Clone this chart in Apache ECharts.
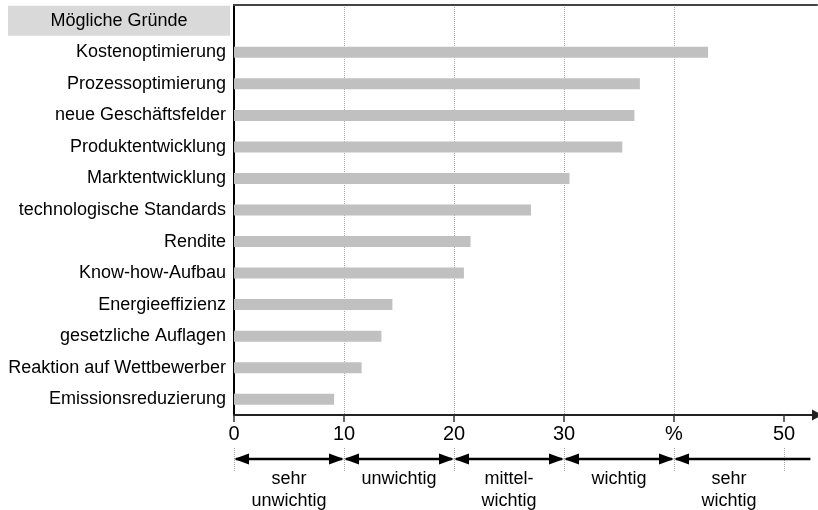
<!DOCTYPE html>
<html>
<head>
<meta charset="utf-8">
<script src="https://cdn.jsdelivr.net/npm/echarts@6/dist/echarts.min.js"></script>
<style>html,body{margin:0;padding:0;background:#fff}#c{width:818px;height:510px}</style>
</head>
<body>
<div id="c"></div>
<script>
const headerLabel = 'Mögliche Gründe';
const categories = ['Kostenoptimierung','Prozessoptimierung','neue Geschäftsfelder','Produktentwicklung','Marktentwicklung','technologische Standards','Rendite','Know-how-Aufbau','Energieeffizienz','gesetzliche Auflagen','Reaktion auf Wettbewerber','Emissionsreduzierung'];
const values = [43.1, 36.9, 36.4, 35.3, 30.5, 27.0, 21.5, 20.9, 14.4, 13.4, 11.6, 9.1];
const tickValues = [0, 10, 20, 30, 40, 50];
const tickLabels = ['0', '10', '20', '30', '%', '50'];
const bandStarts = [0, 10, 20, 30, 40];
const bandEnds = [10, 20, 30, 40, 52.4];
const bandMids = [5, 15, 25, 35, 45];
const bandLabels = ['sehr\nunwichtig', 'unwichtig', 'mittel-\nwichtig', 'wichtig', 'sehr\nwichtig'];

const FONT = "'Liberation Sans', Arial, sans-serif";
const yCats = [headerLabel].concat(categories);
const barData = ['-'].concat(values);

const chart = echarts.init(document.getElementById('c'), null, {renderer: 'canvas'});

const bandData = bandStarts.map((s, i) => [s, bandEnds[i], bandMids[i], i]);
const guideData = tickValues.map(v => [v]);

const option = {
  animation: false,
  backgroundColor: '#fff',
  grid: {left: 234, top: 5, width: 583, height: 410, containLabel: false},
  xAxis: [{
    type: 'value', min: 0, max: 53, interval: 10, position: 'bottom',
    axisLine: {show: true, lineStyle: {color: '#222', width: 2}, symbol: ['none', 'triangle'], symbolSize: [11, 10]},
    axisTick: {show: true, length: 7, lineStyle: {color: '#333', width: 1.5}, customValues: tickValues},
    axisLabel: {show: true, margin: 9, fontSize: 20, fontFamily: FONT, color: '#000',
      customValues: tickValues,
      formatter: v => { const k = tickValues.indexOf(v); return k >= 0 ? tickLabels[k] : ''; }},
    splitLine: {show: true, showMinLine: false, showMaxLine: false, lineStyle: {color: '#aaa', type: 'dotted', width: 1}}
  }, {
    type: 'value', min: 0, max: 53, position: 'top',
    axisLine: {show: true, lineStyle: {color: '#444', width: 2}},
    axisTick: {show: false}, axisLabel: {show: false}, splitLine: {show: false}
  }],
  yAxis: {
    type: 'category', data: yCats, inverse: true,
    axisLine: {show: true, lineStyle: {color: '#000', width: 2}},
    axisTick: {show: false},
    splitLine: {show: false},
    axisLabel: {
      margin: 4, color: '#000', fontSize: 18, fontFamily: FONT,
      formatter: (v, i) => i === 0 ? '{hdr|' + v + '}' : '{c|' + v + '}',
      rich: {
        hdr: {backgroundColor: '#d9d9d9', width: 222, height: 30, align: 'center', verticalAlign: 'middle', fontSize: 18, fontFamily: FONT, color: '#000'},
        c: {padding: [0, 4, 0, 0], fontSize: 18, fontFamily: FONT, color: '#000'}
      }
    }
  },
  series: [{
    type: 'bar', data: barData, barWidth: 11, xAxisIndex: 0,
    itemStyle: {color: '#c0c0c0'}, silent: true
  }, {
    type: 'custom', xAxisIndex: 0, clip: false, silent: true, data: guideData,
    renderItem: (params, api) => {
      const cs = params.coordSys;
      const axisY = cs.y + cs.height;
      const x = Math.round(api.coord([api.value(0), 0])[0]) + 0.5;
      return {type: 'line', shape: {x1: x, y1: axisY + 33, x2: x, y2: axisY + 57},
        style: {stroke: '#aaa', lineWidth: 1, lineDash: [1, 1]}};
    }
  }, {
    type: 'custom', xAxisIndex: 0, clip: false, silent: true, data: bandData,
    renderItem: (params, api) => {
      const cs = params.coordSys;
      const axisY = cs.y + cs.height;
      const xs = api.coord([api.value(0), 0])[0];
      const xe = api.coord([api.value(1), 0])[0];
      const xm = api.coord([api.value(2), 0])[0];
      const idx = api.value(3);
      const last = idx === bandLabels.length - 1;
      const yA = axisY + 44;
      const L = 15, H = 5.5;
      const children = [
        {type: 'line', shape: {x1: xs + 2, y1: yA, x2: last ? xe : xe - 2, y2: yA}, style: {stroke: '#000', lineWidth: 2.5}},
        {type: 'polygon', shape: {points: [[xs, yA], [xs + L, yA - H], [xs + L, yA + H]]}, style: {fill: '#000'}},
        {type: 'text', style: {text: bandLabels[idx], x: xm, y: yA + 9, align: 'center', verticalAlign: 'top',
          fontSize: 18, fontFamily: FONT, lineHeight: 22, fill: '#000'}}
      ];
      if (!last) children.push({type: 'polygon', shape: {points: [[xe, yA], [xe - L, yA - H], [xe - L, yA + H]]}, style: {fill: '#000'}});
      return {type: 'group', children};
    }
  }]
};
chart.setOption(option);
</script>
</body>
</html>
